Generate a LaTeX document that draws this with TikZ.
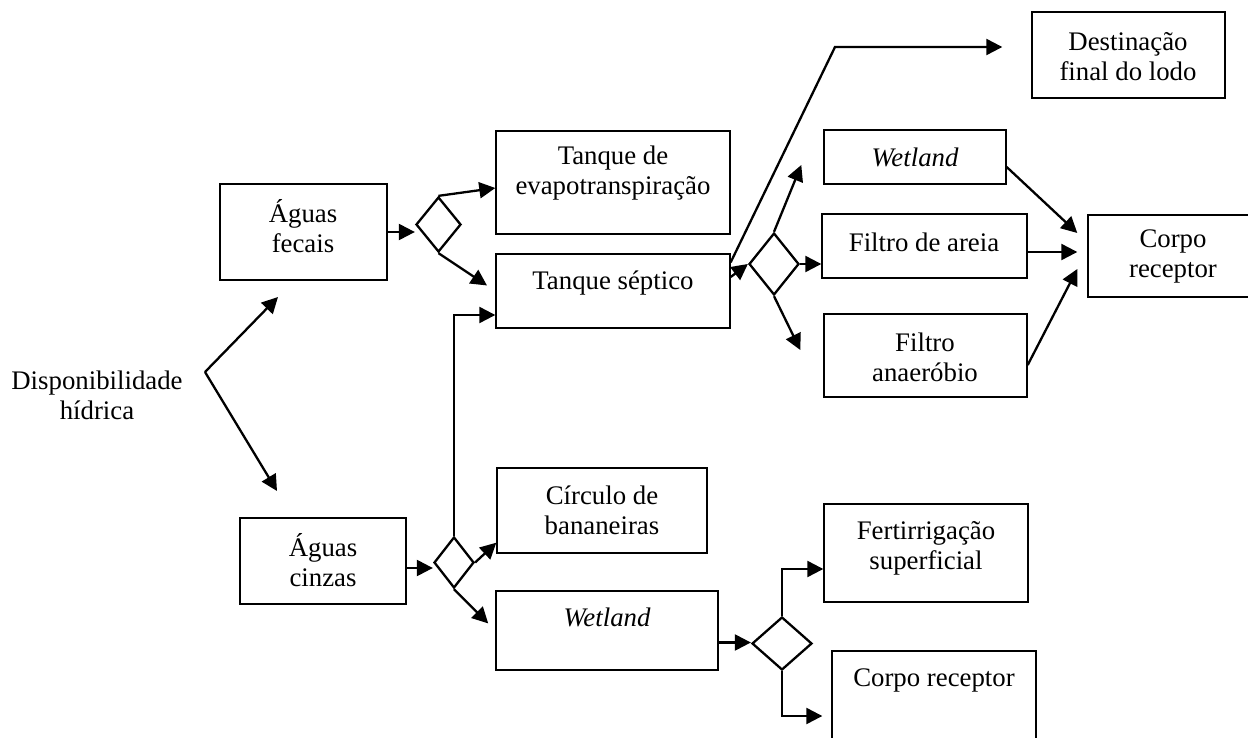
\documentclass[tikz,border=0pt]{standalone}
\usepackage{fontspec}
\setmainfont{Liberation Serif}
\usetikzlibrary{arrows.meta, shapes.geometric, fit, calc}

\begin{document}
\begin{tikzpicture}[x=0.5pt,y=-0.5pt,>={Triangle[length=8pt,width=8pt]},
  flow/.style={->,line width=1.15pt},
  box node/.style={draw,rectangle,line width=0.7pt,inner sep=0pt},
  text node/.style={align=center,inner sep=0pt,font=\fontsize{13.4}{15}\selectfont},
  choice node/.style={draw,diamond,line width=1.15pt,inner sep=0pt}]
  \path[use as bounding box] (0,0) rectangle (1248,738);
  \clip (0,0) rectangle (1248,738);

  % source
  \node[text node] (dh) at (97,395) {Disponibilidade\\hídrica};
  \coordinate (split) at (205,372);
  \coordinate (toaf) at (278,297);
  \coordinate (toac) at (277,491);

  % black water
  \node[box node, fit={(220,184) (387,280)}] (af) {};
  \node[text node] (afT) at (303,226) {Águas\\fecais};
  \node[choice node, minimum width=22.5pt, minimum height=27.5pt] (d1) at (438.5,224.5) {};
  \node[box node, fit={(496,131) (730,234)}] (ev) {};
  \node[text node] (evT) at (613,173) {Tanque de\\evapotranspiração};
  \node[box node, fit={(496,254) (730,328)}] (ts) {};
  \node[text node] (tsT) at (613,283) {Tanque séptico};

  % grey water
  \node[box node, fit={(240,518) (406,604)}] (ac) {};
  \node[text node] (acT) at (323,560) {Águas\\cinzas};
  \node[choice node, minimum width=20pt, minimum height=25.5pt] (d2) at (454,562.5) {};
  \node[box node, fit={(497,468) (707,553)}] (cb) {};
  \node[text node] (cbT) at (602,510) {Círculo de\\bananeiras};
  \node[box node, fit={(496,591) (718,670)}] (wl2) {};
  \node[text node] (wl2T) at (607,617) {\itshape Wetland};
  \node[choice node, minimum width=30pt, minimum height=26.5pt] (d3) at (782,643.5) {};
  \node[box node, fit={(824,504) (1028,602)}] (fs) {};
  \node[text node] (fsT) at (926,548) {Fertirrigação\\superficial};
  \node[box node, fit={(832,651) (1036,760)}] (cr2) {};
  \node[text node] (cr2T) at (934,680) {Corpo receptor};

  % after the septic tank
  \node[box node, fit={(1032,12) (1225,98)}] (dl) {};
  \node[text node] (dlT) at (1128,57) {Destinação\\final do lodo};
  \node[choice node, minimum width=25pt, minimum height=31pt] (d4) at (774,264) {};
  \node[box node, fit={(824,130) (1006,184)}] (wl1) {};
  \node[text node] (wl1T) at (915,157) {\itshape Wetland};
  \node[box node, fit={(822,214) (1027,278)}] (fa) {};
  \node[text node] (faT) at (924,242) {Filtro de areia};
  \node[box node, fit={(824,314) (1027,397)}] (an) {};
  \node[text node] (anT) at (925,357) {Filtro\\anaeróbio};
  \node[box node, fit={(1088,215) (1258,297)}] (cr1) {};
  \node[text node] (cr1T) at (1173,256) {Corpo\\receptor};
  \coordinate (bend) at (835,47);

  \coordinate (acout) at ($(ac.east)+(0,7)$);
  \coordinate (wl2out) at ($(wl2.east)+(0,12)$);
  \coordinate (faout) at ($(fa.east)+(0,6)$);

  \draw[flow] (split) -- (toaf);
  \draw[flow] (split) -- (toac);
  \draw[flow] (af.east) -- (af.east -| d1.west);
  \draw[flow] (d1.north) -- ($(ev.west)+(0,5.5)$);
  \draw[flow, shorten >=5pt] (d1.south) -- (ts.west);
  \draw[flow] (acout) -- (acout -| d2.west);
  \draw[flow] (d2.north) |- ($(ts.west)+(0,24)$);
  \draw[flow] (d2.east) -- ($(cb.south west)+(0,-11)$);
  \draw[flow, shorten >=5pt] (d2.south) -- (wl2.west);
  \draw[flow] (wl2out) -- (wl2out -| d3.west);
  \draw[flow] (d3.north) |- ($(fs.west)+(0,16)$);
  \draw[flow, shorten >=4.5pt] (d3.south) |- ($(cr2.west)+(0,10.5)$);
  \draw[flow, shorten >=14.5pt] ($(ts.north east)+(0,9)$) -- (bend) -- (bend -| dl.west);
  \draw[flow] ($(ts.east)+(0,-14)$) -- (d4.west);
  \draw[flow] (d4.north) -- ($(wl1.west)+(-22,8)$);
  \draw[flow] (d4.east) -- (d4.east -| fa.west);
  \draw[flow] (d4.south) -- ($(an.west)+(-23,-5.5)$);
  \draw[flow] ($(wl1.east)+(0,10)$) -- ($(cr1.west)+(-10,-23)$);
  \draw[flow, shorten >=5pt] (faout) -- (faout -| cr1.west);
  \draw[flow] ($(an.east)+(0,9.5)$) -- ($(cr1.west)+(-10,13)$);
\end{tikzpicture}
\end{document}
